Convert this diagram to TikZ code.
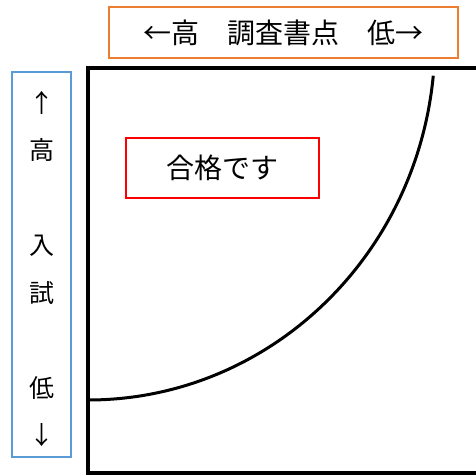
\documentclass[tikz,border=0pt]{standalone}
\usepackage{fontspec}
\setmainfont{Noto Sans CJK JP}
\definecolor{chosaorange}{RGB}{237,125,49}
\definecolor{nyushiblue}{RGB}{91,155,213}
\begin{document}
\begin{tikzpicture}[x=1pt,y=1pt,
    waku/.style={draw, line width=1.5pt, inner sep=0pt}]
    \useasboundingbox (0,0) rectangle (476,476);
    % labels
    \node[waku, draw=chosaorange, minimum width=349, minimum height=51,
        font=\fontsize{28}{30}\selectfont] (chosa) at (283.5,443.5) {←高　調査書点　低→};
    \node[waku, draw=nyushiblue, minimum width=59, minimum height=385] (nyushiwaku) at (41.5,211.5) {};
    \node[align=center, inner sep=0pt, font=\fontsize{25}{47.5}\selectfont] (nyushi) at (41.5,207)
        {↑\\高\\\phantom{高}\\入\\試\\\phantom{高}\\低\\↓};
    \node[waku, draw=red, minimum width=193, minimum height=60,
        font=\fontsize{28}{30}\selectfont] (gokaku) at (222.5,308) {合格です};
    % axes
    \draw[line width=4pt] (478,408) -- (88,408) -- (88,3) -- (478,3);
    \draw[line width=3pt] (88,76) arc[start angle=270, end angle=354.3, x radius=347, y radius=360];
\end{tikzpicture}
\end{document}
